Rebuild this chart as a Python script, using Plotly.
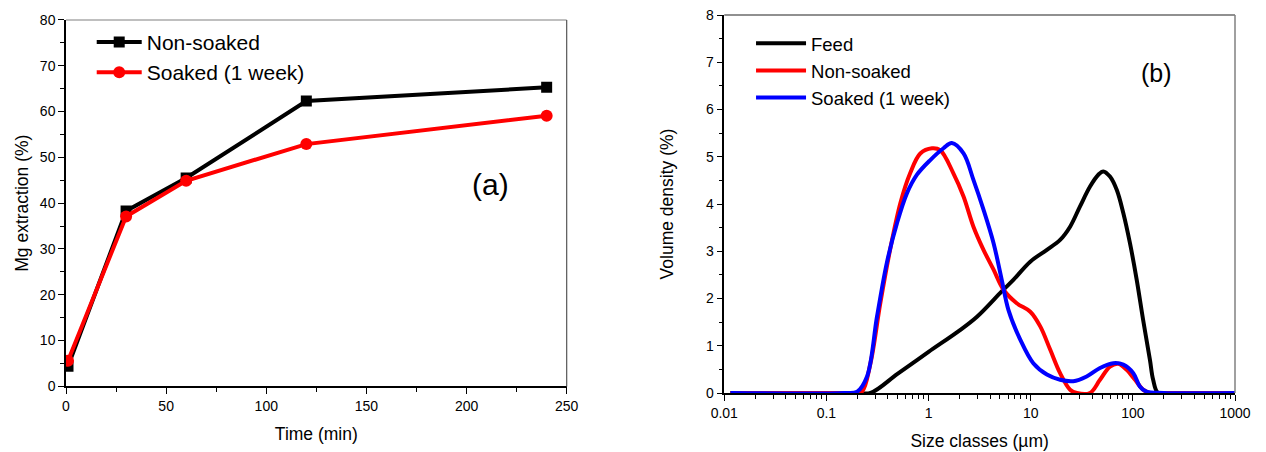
import plotly.graph_objects as go

# ---- (a) Mg extraction vs time ----
time_min = [1, 30, 60, 120, 240]
mg_non_soaked = [4.4, 38.3, 45.5, 62.3, 65.3]
mg_soaked = [5.6, 37.1, 44.9, 52.9, 59.1]

# ---- (b) particle size distributions ----
feed_size = [0.0115, 0.2, 0.27, 0.5, 1.0, 2.0, 3.0, 5.2, 6.8,
             9.9, 14.4, 19.4, 24.3, 30.4, 38.1, 45.9, 51.4, 59.7, 69.5, 80.6, 93.7, 109,
             126, 147, 158, 177, 250, 1000]
feed_density = [0, 0, 0, 0.41, 0.87, 1.32, 1.62, 2.15, 2.40,
                2.78, 3.03, 3.24, 3.52, 3.95, 4.37, 4.62, 4.69, 4.58, 4.30, 3.81, 3.17,
                2.40, 1.55, 0.70, 0.28, 0.0, 0, 0]

non_soaked_size = [0.0115, 0.15, 0.19, 0.223, 0.27, 0.337, 0.42, 0.53, 0.66, 0.83, 1.08,
                   1.30, 1.75, 2.2, 2.75, 3.45, 4.33, 5.4, 7.3, 9.9, 12.4, 15.5, 19.4,
                   24.3, 28.3, 38, 47.7, 59.7, 72, 86.9, 105, 126, 147, 200, 1000]
non_soaked_density = [0, 0, 0, 0.03, 0.63, 1.90, 3.03, 4.02, 4.65, 5.07, 5.18,
                      5.14, 4.65, 4.16, 3.52, 3.03, 2.61, 2.19, 1.90, 1.72, 1.41, 0.92, 0.42,
                      0.07, 0, 0, 0.28, 0.56, 0.62, 0.49, 0.28, 0.07, 0, 0, 0]

soaked_size = [0.0115, 0.15, 0.2, 0.25, 0.313, 0.39, 0.49, 0.615, 0.77, 1.04, 1.40, 1.69,
               2.2, 2.75, 3.45, 4.33, 5.2, 6.05, 7.9, 10.6, 14.4, 19.4, 26.1, 35.3, 47.7,
               64.3, 80.6, 101, 117, 136, 200, 1000]
soaked_density = [0, 0, 0.03, 0.35, 1.62, 2.75, 3.59, 4.23, 4.62, 4.93, 5.18, 5.29,
                  5.07, 4.51, 3.88, 3.17, 2.40, 1.76, 1.13, 0.63, 0.39, 0.28, 0.25, 0.35,
                  0.53, 0.63, 0.60, 0.42, 0.14, 0.03, 0, 0]

size_ticks = [0.01, 0.1, 1, 10, 100, 1000]
size_tick_text = ["0.01", "0.1", "1", "10", "100", "1000"]
size_minor = [m * d for d in [0.01, 0.1, 1, 10, 100] for m in range(2, 10)]

FONT = "Arial, Liberation Sans, sans-serif"
BLACK = "#000000"
RED = "#ff0000"
BLUE = "#0000ff"

fig = go.Figure()

fig.add_trace(go.Scatter(
    x=time_min, y=mg_non_soaked, name="Non-soaked", mode="lines+markers",
    line=dict(color=BLACK, width=4), marker=dict(symbol="square", size=11, color=BLACK),
    xaxis="x", yaxis="y", legend="legend"))
fig.add_trace(go.Scatter(
    x=time_min, y=mg_soaked, name="Soaked (1 week)", mode="lines+markers",
    line=dict(color=RED, width=4), marker=dict(symbol="circle", size=12, color=RED),
    xaxis="x", yaxis="y", legend="legend"))

for sz, dens, nm, col in [(feed_size, feed_density, "Feed", BLACK),
                          (non_soaked_size, non_soaked_density, "Non-soaked", RED),
                          (soaked_size, soaked_density, "Soaked (1 week)", BLUE)]:
    fig.add_trace(go.Scatter(
        x=sz, y=dens, name=nm, mode="lines",
        line=dict(color=col, width=4, shape="spline", smoothing=1.0),
        xaxis="x2", yaxis="y2", legend="legend2"))

tick_font = dict(family=FONT, size=14, color=BLACK)
title_font = dict(family=FONT, size=17.5, color=BLACK)
common = dict(showline=True, linecolor=BLACK, linewidth=1.5, ticks="outside",
              ticklen=6, tickwidth=1.2, tickcolor=BLACK, showgrid=False, zeroline=False,
              tickfont=tick_font, automargin=False)
minor_tick = dict(ticks="outside", ticklen=4, tickcolor=BLACK, tickwidth=1.2)

fig.update_layout(
    width=1266, height=452,
    margin=dict(l=66, r=31, t=15, b=59),
    paper_bgcolor="white", plot_bgcolor="white",
    font=dict(family=FONT, color=BLACK),
    xaxis=dict(domain=[0, 0.4283], range=[0, 250], dtick=50,
               title=dict(text="Time (min)", font=title_font, standoff=15),
               minor=dict(dtick=25, **minor_tick), anchor="y", **common),
    yaxis=dict(domain=[0.0175, 0.9868], range=[0, 80], dtick=10,
               title=dict(text="Mg extraction (%)", font=title_font, standoff=7),
               minor=dict(dtick=5, **minor_tick), anchor="x", **common),
    xaxis2=dict(domain=[0.5631, 1], type="log", range=[-2, 3],
                tickvals=size_ticks, ticktext=size_tick_text,
                title=dict(text="Size classes (µm)", font=title_font, standoff=15),
                minor=dict(tickvals=size_minor, **minor_tick), anchor="y2", **common),
    yaxis2=dict(domain=[0, 1], range=[0, 8], dtick=1,
                title=dict(text="Volume density (%)", font=title_font, standoff=28),
                minor=dict(dtick=0.5, **minor_tick), anchor="x2", **common),
    legend=dict(x=0.022, y=0.982, xanchor="left", yanchor="top",
                font=dict(family=FONT, size=21, color=BLACK), bgcolor="rgba(0,0,0,0)",
                itemwidth=45, tracegroupgap=0),
    legend2=dict(x=0.586, y=0.974, xanchor="left", yanchor="top",
                 font=dict(family=FONT, size=18.5, color=BLACK), bgcolor="rgba(0,0,0,0)",
                 itemwidth=50, tracegroupgap=0),
    showlegend=True,
)

# Frame edges on the top and right of each panel
fig.add_shape(type="line", xref="x domain", yref="y domain", x0=0, x1=1, y0=1, y1=1,
              line=dict(color="#808080", width=1.2))
fig.add_shape(type="line", xref="x domain", yref="y domain", x0=1, x1=1, y0=0, y1=1,
              line=dict(color="#555555", width=1.2))
fig.add_shape(type="line", xref="x2 domain", yref="y2 domain", x0=0, x1=1, y0=1, y1=1,
              line=dict(color="#222222", width=1.2))
fig.add_shape(type="line", xref="x2 domain", yref="y2 domain", x0=1, x1=1, y0=0, y1=1,
              line=dict(color="#808080", width=1.5))

fig.add_annotation(text="(a)", xref="x domain", yref="y domain", x=0.847, y=0.55,
                   xanchor="center", yanchor="middle",
                   showarrow=False, font=dict(family=FONT, size=30, color=BLACK))
fig.add_annotation(text="(b)", xref="x2 domain", yref="y2 domain", x=0.847, y=0.846,
                   xanchor="center", yanchor="middle",
                   showarrow=False, font=dict(family=FONT, size=25, color=BLACK))

fig.write_html("out.html")
